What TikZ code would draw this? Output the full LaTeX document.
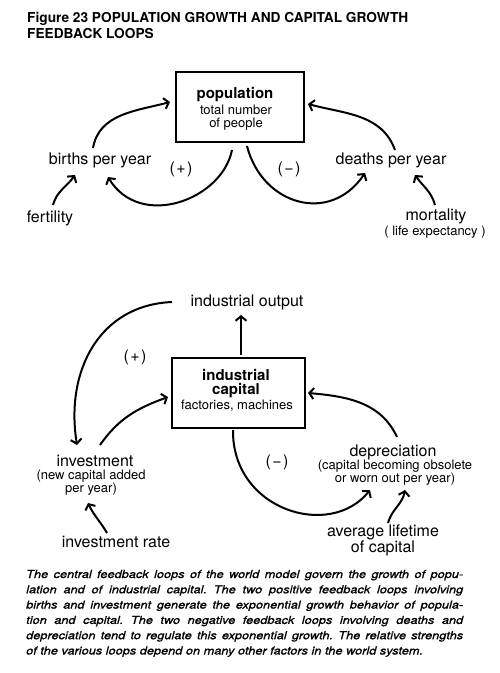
\documentclass[tikz,border=0pt]{standalone}
\usepackage{fontspec}
\setmainfont{TeX Gyre Heros}
\newfontfamily\capfont[FakeBold=1,FakeStretch=1.16]{TeX Gyre Heros}
\usetikzlibrary{arrows.meta}
\tikzset{
  lab/.style={inner sep=0pt, font=\fontsize{16}{16}\selectfont},
  sublab/.style={inner sep=0pt, align=center, font=\fontsize{13}{13}\selectfont},
  sign/.style={inner sep=0pt, font=\fontsize{16}{16}\selectfont},
  boxnode/.style={draw, line width=2.6pt, inner sep=0pt},
  flow/.style={line width=2pt, -{Straight Barb[length=4.5pt,width=11pt,line width=2pt]}},
  ttl/.style={inner sep=0pt, anchor=base west, font=\fontsize{13.7}{13.7}\selectfont\bfseries},
  capline/.style={inner sep=0pt, anchor=base west, font=\capfont\itshape\fontsize{11}{11}\selectfont\frenchspacing},
}
\begin{document}
\begin{tikzpicture}[x=1pt,y=1pt]
\useasboundingbox[fill=white] (0,0) rectangle (500,-673);
% title
\node[ttl] (t1) at (27,-22) {Figure 23 POPULATION GROWTH AND CAPITAL GROWTH};
\node[ttl] (t2) at (27,-38) {FEEDBACK LOOPS};
% population box
\node[boxnode, minimum width=128pt, minimum height=70pt] (pop) at (240,-107) {};
\node[inner sep=0pt, font=\fontsize{15}{15}\selectfont\bfseries] (popt) at (235,-95) {population};
\node[sublab] (pops) at (236,-118) {total number\\of people};
\node[lab] (births) at (100,-160) {births per year};
\node[lab] (fert) at (50,-218) {fertility};
\node[sign] (plus1) at (181,-169) {(\kern1.5pt+\kern1.5pt)};
\node[sign] (minus1) at (289,-169) {(\kern1.5pt\textminus\kern1.5pt)};
\node[lab] (deaths) at (391,-160) {deaths per year};
\node[lab] (mort) at (436,-216) {mortality};
\node[sublab] (lifeexp) at (435,-232) {( life expectancy )};
% coordinates of top connectors
\coordinate (b1) at (93,-148);
\coordinate (p1) at (170,-102);
\coordinate (p2) at (232,-150);
\coordinate (b2) at (108,-177);
\coordinate (p3) at (247,-146);
\coordinate (d1) at (365,-173);
\coordinate (d2) at (395,-150);
\coordinate (p4) at (308,-104);
\coordinate (f1) at (53,-205);
\coordinate (b3) at (75,-175);
\coordinate (m1) at (435,-205);
\coordinate (d3) at (415,-175);
\draw[flow] (b1) to[out=80,in=195] (p1);
\draw[flow] (p2) .. controls (222,-200) and (140,-230) .. (b2);
\draw[flow] (p3) .. controls (262,-205) and (330,-225) .. (d1);
\draw[flow] (d2) to[out=110,in=-15] (p4);
\draw[flow] (f1) to[out=75,in=-125] (b3);
\draw[flow] (m1) to[out=105,in=-55] (d3);
% capital part
\node[lab] (output) at (247,-302) {industrial output};
\node[boxnode, minimum width=133pt, minimum height=70pt] (cap) at (238.5,-393) {};
\node[inner sep=0pt, align=center, font=\fontsize{15}{14}\selectfont\bfseries] (capt) at (236,-384) {industrial\\capital};
\node[inner sep=0pt, font=\fontsize{13}{13}\selectfont] (caps) at (237,-406) {factories, machines};
\node[sign] (plus2) at (135,-357) {(\kern1.5pt+\kern1.5pt)};
\node[sign] (minus2) at (277,-462) {(\kern1.5pt\textminus\kern1.5pt)};
\node[lab] (inv) at (95,-461) {investment};
\node[sublab] (invs) at (91,-483) {(new capital added\\per year)};
\node[lab] (invrate) at (116,-542) {investment rate};
\node[lab] (dep) at (393,-452) {depreciation};
\node[sublab] (deps) at (395,-473) {(capital becoming obsolete\\or worn out per year)};
\node[lab, align=center, font=\fontsize{16}{14}\selectfont] (avg) at (383,-540) {average lifetime\\of capital};
\coordinate (c1) at (241,-355);
\coordinate (o1) at (241,-315);
\coordinate (o2) at (172,-302);
\coordinate (i1) at (77,-445);
\coordinate (i2) at (100,-445);
\coordinate (c2) at (168,-397);
\coordinate (r1) at (107,-533);
\coordinate (i3) at (88,-503);
\coordinate (c3) at (233,-430);
\coordinate (e1) at (370,-490);
\coordinate (e2) at (397,-437);
\coordinate (c4) at (308,-393);
\coordinate (a1) at (388,-523);
\coordinate (e3) at (405,-490);
\draw[flow] (c1) -- (o1);
\draw[flow] (o2) .. controls (100,-305) and (65,-370) .. (i1);
\draw[flow] (i2) to[out=55,in=200] (c2);
\draw[flow] (r1) to[out=120,in=-65] (i3);
\draw[flow] (c3) .. controls (232,-510) and (330,-540) .. (e1);
\draw[flow] (e2) to[out=115,in=-5] (c4);
\draw[flow] (a1) to[out=75,in=-100] (e3);
% caption
\node[capline] (l1) at (26,-578) {\makebox[437pt][s]{The central feedback loops of the world model govern the growth of popu-}};
\node[capline] (l2) at (26,-593.3) {\makebox[437pt][s]{lation and of industrial capital. The two positive feedback loops involving}};
\node[capline] (l3) at (26,-608.6) {\makebox[437pt][s]{births and investment generate the exponential growth behavior of popula-}};
\node[capline] (l4) at (26,-623.9) {\makebox[437pt][s]{tion and capital. The two negative feedback loops involving deaths and}};
\node[capline] (l5) at (26,-639.2) {\makebox[437pt][s]{depreciation tend to regulate this exponential growth. The relative strengths}};
\node[capline] (l6) at (26,-654.5) {of the various loops depend on many other factors in the world system.};
\end{tikzpicture}
\end{document}
